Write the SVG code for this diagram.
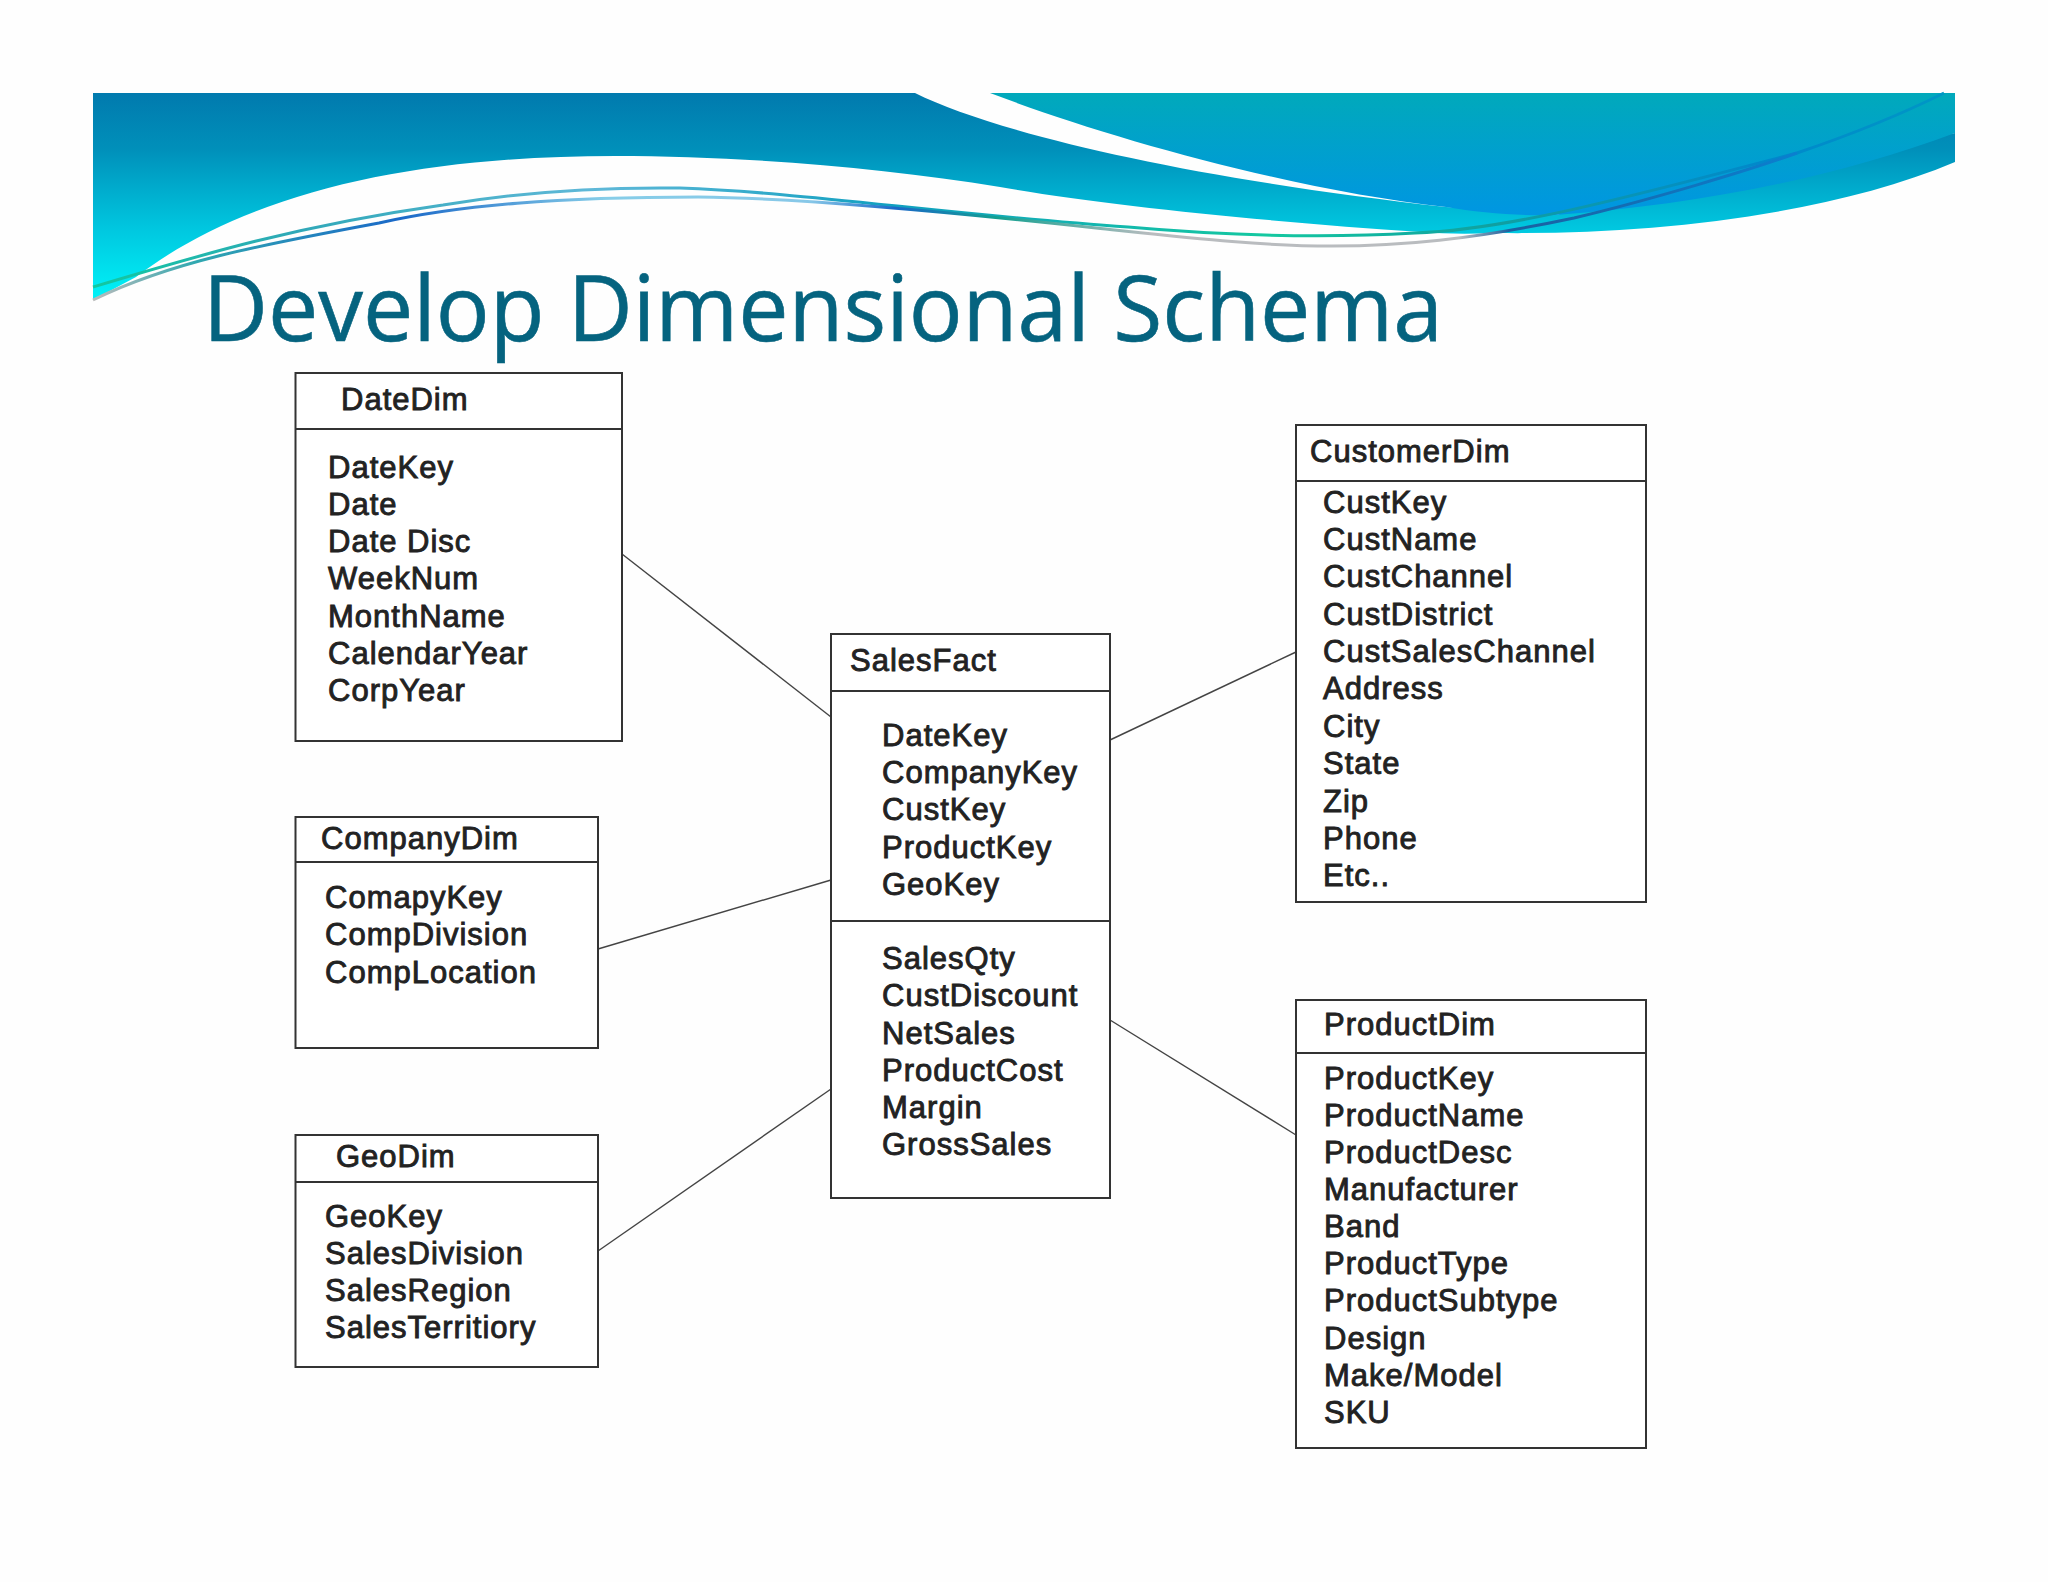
<svg xmlns="http://www.w3.org/2000/svg" width="2048" height="1582" viewBox="0 0 2048 1582">
<defs>
<linearGradient id="g1" gradientUnits="userSpaceOnUse" x1="0" y1="93" x2="0" y2="295"><stop offset="0" stop-color="#017aae"/><stop offset="0.28" stop-color="#0090ba"/><stop offset="0.68" stop-color="#00c8e0"/><stop offset="1" stop-color="#00f0f6"/></linearGradient>
<linearGradient id="g2" gradientUnits="userSpaceOnUse" x1="0" y1="93" x2="0" y2="215"><stop offset="0" stop-color="#01a9bb"/><stop offset="1" stop-color="#0096e2"/></linearGradient>
<linearGradient id="l1" gradientUnits="userSpaceOnUse" x1="93" y1="0" x2="1955" y2="0"><stop offset="0" stop-color="#10c8a0"/><stop offset="0.11" stop-color="#30a8b8"/><stop offset="0.27" stop-color="#5fb8d8"/><stop offset="0.43" stop-color="#10a0c0"/><stop offset="0.63" stop-color="#14c8a0"/><stop offset="0.75" stop-color="#10a0a0"/><stop offset="0.9" stop-color="#0088cc"/><stop offset="1" stop-color="#0098c4"/></linearGradient>
<linearGradient id="l2" gradientUnits="userSpaceOnUse" x1="93" y1="0" x2="1800" y2="0"><stop offset="0" stop-color="#bbbbbb"/><stop offset="0.06" stop-color="#30a8b0"/><stop offset="0.18" stop-color="#1a68c8"/><stop offset="0.3" stop-color="#86cde8"/><stop offset="0.42" stop-color="#88c8e8"/><stop offset="0.47" stop-color="#1a68c8"/><stop offset="0.53" stop-color="#14a090"/><stop offset="0.62" stop-color="#b9bcbf"/><stop offset="0.8" stop-color="#b9bcbf"/><stop offset="0.83" stop-color="#1a60a0"/><stop offset="1" stop-color="#0a80d0"/></linearGradient>
</defs>
<style>
.box{fill:#fff;stroke:#333;stroke-width:2}
.div{stroke:#333;stroke-width:2;fill:none}
.conn{stroke:#444;stroke-width:1.4;fill:none}
text{font-family:"Liberation Sans",Arial,sans-serif;font-size:31px;letter-spacing:1px;fill:#222;stroke:#222;stroke-width:.9}
.title{font-family:"Open Sans","Noto Sans",sans-serif;font-size:91px;letter-spacing:0;fill:#05637f;stroke:#05637f;stroke-width:.6}
.w{fill:none;stroke-width:3}
</style>
<rect width="2048" height="1582" fill="#fefefe"/>
<g id="banner">
<path d="M93 300V93H915C1000 135 1200 180 1446 207L1555 215L1955 133V162C1830 215 1650 235 1497 233C1470 234 1445 234 1421 232C1270 222 1100 205 1000 187C880 167 740 156 615 156C420 156 250 190 136 277Z" fill="url(#g1)"/>
<path d="M990 93C1100 135 1290 190 1446 207C1480 213 1520 216 1555 215C1690 205 1830 180 1955 133V93Z" fill="url(#g2)"/>
<path class="w" d="M93 287C200 255 300 225 443 205C520 192 600 187 680 188C800 192 950 215 1128 227C1230 236 1330 238 1415 233C1500 230 1600 205 1797 153C1850 135 1900 115 1944 93" stroke="url(#l1)"/>
<path class="w" d="M93 300C170 262 260 245 379 223C460 205 560 197 698 197C800 198 950 212 1096 228C1191 238 1260 246 1332 246C1400 246 1470 240 1574 218C1650 200 1750 170 1797 153" stroke="url(#l2)"/>
</g>
<text class="title" x="203" y="341" textLength="1240" lengthAdjust="spacingAndGlyphs">Develop Dimensional Schema</text>
<g id="connectors">
<line class="conn" x1="622" y1="554" x2="831" y2="717"/>
<line class="conn" x1="598" y1="949" x2="831" y2="880"/>
<line class="conn" x1="598" y1="1251" x2="831" y2="1089"/>
<line class="conn" x1="1110" y1="740" x2="1296" y2="652"/>
<line class="conn" x1="1110" y1="1020" x2="1296" y2="1135"/>
</g>
<g id="DateDim">
<rect class="box" x="295.500" y="373" width="326.500" height="368"/><line class="div" x1="295" y1="429" x2="622" y2="429"/>
<text x="341" y="410">DateDim</text>
<text x="328" y="478">DateKey</text><text x="328" y="515">Date</text><text x="328" y="552">Date Disc</text><text x="328" y="589">WeekNum</text><text x="328" y="627">MonthName</text><text x="328" y="664">CalendarYear</text><text x="328" y="701">CorpYear</text>
</g>
<g id="CompanyDim">
<rect class="box" x="295.500" y="817" width="302.500" height="231"/><line class="div" x1="295" y1="862" x2="598" y2="862"/>
<text x="321" y="849">CompanyDim</text>
<text x="325" y="908">ComapyKey</text><text x="325" y="945">CompDivision</text><text x="325" y="983">CompLocation</text>
</g>
<g id="GeoDim">
<rect class="box" x="295.500" y="1135" width="302.500" height="232"/><line class="div" x1="295" y1="1182" x2="598" y2="1182"/>
<text x="336" y="1167">GeoDim</text>
<text x="325" y="1227">GeoKey</text><text x="325" y="1264">SalesDivision</text><text x="325" y="1301">SalesRegion</text><text x="325" y="1338">SalesTerritiory</text>
</g>
<g id="SalesFact">
<rect class="box" x="831" y="634" width="279" height="564"/><line class="div" x1="831" y1="691" x2="1110" y2="691"/><line class="div" x1="831" y1="921" x2="1110" y2="921"/>
<text x="850" y="671">SalesFact</text>
<text x="882" y="746">DateKey</text><text x="882" y="783">CompanyKey</text><text x="882" y="820">CustKey</text><text x="882" y="858">ProductKey</text><text x="882" y="895">GeoKey</text>
<text x="882" y="969">SalesQty</text><text x="882" y="1006">CustDiscount</text><text x="882" y="1044">NetSales</text><text x="882" y="1081">ProductCost</text><text x="882" y="1118">Margin</text><text x="882" y="1155">GrossSales</text>
</g>
<g id="CustomerDim">
<rect class="box" x="1296" y="425" width="350" height="477"/><line class="div" x1="1296" y1="481" x2="1646" y2="481"/>
<text x="1310" y="462">CustomerDim</text>
<text x="1323" y="513">CustKey</text><text x="1323" y="550">CustName</text><text x="1323" y="587">CustChannel</text><text x="1323" y="625">CustDistrict</text><text x="1323" y="662">CustSalesChannel</text><text x="1323" y="699">Address</text><text x="1323" y="737">City</text><text x="1323" y="774">State</text><text x="1323" y="812">Zip</text><text x="1323" y="849">Phone</text><text x="1323" y="886">Etc..</text>
</g>
<g id="ProductDim">
<rect class="box" x="1296" y="1000" width="350" height="448"/><line class="div" x1="1296" y1="1053" x2="1646" y2="1053"/>
<text x="1324" y="1035">ProductDim</text>
<text x="1324" y="1089">ProductKey</text><text x="1324" y="1126">ProductName</text><text x="1324" y="1163">ProductDesc</text><text x="1324" y="1200">Manufacturer</text><text x="1324" y="1237">Band</text><text x="1324" y="1274">ProductType</text><text x="1324" y="1311">ProductSubtype</text><text x="1324" y="1349">Design</text><text x="1324" y="1386">Make/Model</text><text x="1324" y="1423">SKU</text>
</g>
</svg>
